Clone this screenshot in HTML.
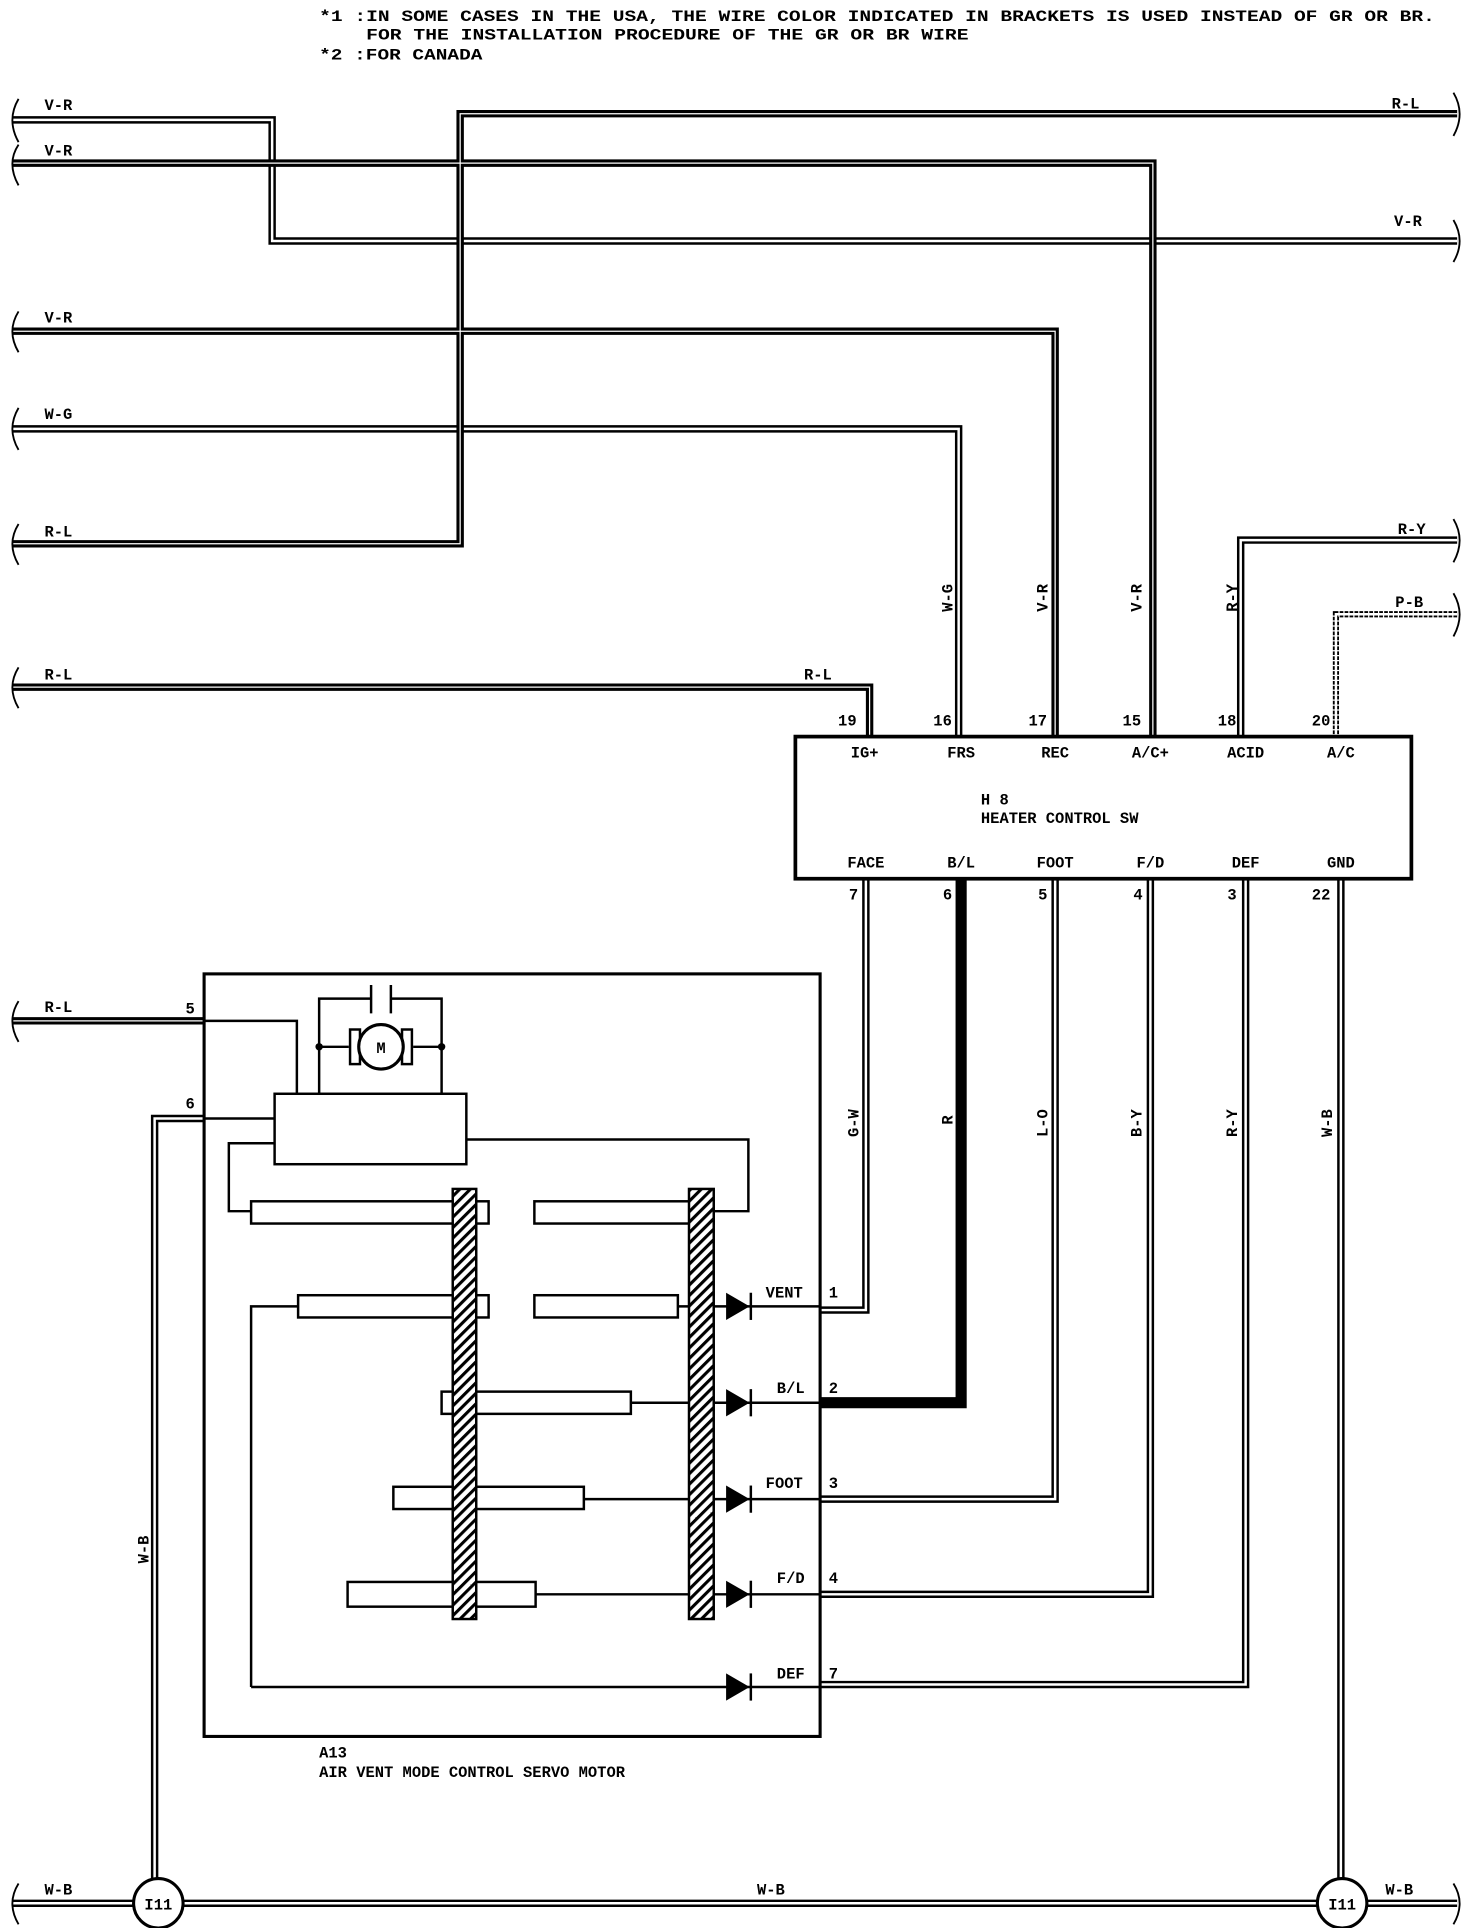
<!DOCTYPE html>
<html><head><meta charset="utf-8"><style>
html,body{margin:0;padding:0;background:#fff;}
svg{display:block;}
text{font-family:"Liberation Mono",monospace;font-weight:bold;font-size:12.5px;fill:#000;}
</style></head><body>
<svg width="1472" height="1928" viewBox="0 0 1190 1560" preserveAspectRatio="none" xmlns="http://www.w3.org/2000/svg">
<defs>
<pattern id="hat" width="6" height="6" patternUnits="userSpaceOnUse" patternTransform="rotate(45)">
<rect width="6" height="6" fill="#fff"/><rect width="2.5" height="6" fill="#000"/></pattern>
<g id="dbl" fill="none">
<path d="M10 97 H220 V195 H1178"/>
<path d="M10 347 H775 V596"/>
<path d="M1178 437 H1003 V596"/>
<path d="M700 711 V1060 H663"/>
<path d="M853 711 V1213 H663"/>
<path d="M930 711 V1290 H663"/>
<path d="M1007 711 V1363 H663"/>
<path d="M1084 711 V1540"/>
<path d="M165 905 H125 V1540"/>
<path d="M10 1540 H1178"/>
</g>
<g id="thk" fill="none">
<path d="M10 132 H932 V596"/>
<path d="M1178 92 H372 V440 H10"/>
<path d="M10 268 H853 V596"/>
<path d="M10 556 H703 V596"/>
<path d="M10 826 H165"/>
</g>
</defs>
<text x="258" y="17" textLength="902" lengthAdjust="spacingAndGlyphs">*1 :IN SOME CASES IN THE USA, THE WIRE COLOR INDICATED IN BRACKETS IS USED INSTEAD OF GR OR BR.</text>
<text x="296" y="32" textLength="487" lengthAdjust="spacingAndGlyphs">FOR THE INSTALLATION PROCEDURE OF THE GR OR BR WIRE</text>
<text x="258" y="48" textLength="132" lengthAdjust="spacingAndGlyphs">*2 :FOR CANADA</text>

<use href="#dbl" stroke="#000" stroke-width="6"/>
<use href="#dbl" stroke="#fff" stroke-width="2"/>
<use href="#thk" stroke="#000" stroke-width="6"/>
<use href="#thk" stroke="#fff" stroke-width="1"/>
<path d="M1178 497 H1080 V596" fill="none" stroke="#000" stroke-width="5" stroke-dasharray="3 1"/>
<path d="M1178 497 H1080 V596" fill="none" stroke="#fff" stroke-width="2"/>
<path d="M777 711 V1135 H663" fill="none" stroke="#000" stroke-width="9"/>

<g fill="none" stroke="#000" stroke-width="1.5">
<path d="M15 80 Q5 97 15 115"/><path d="M15 117 Q5 132 15 150"/><path d="M15 252 Q5 268 15 285"/>
<path d="M15 330 Q5 347 15 364"/><path d="M15 424 Q5 440 15 457"/><path d="M15 540 Q5 556 15 573"/>
<path d="M15 810 Q5 826 15 843"/><path d="M15 1524 Q5 1540 15 1557"/>
<path d="M1175 75 Q1185 92 1175 110"/><path d="M1175 178 Q1185 195 1175 212"/><path d="M1175 420 Q1185 437 1175 455"/>
<path d="M1175 480 Q1185 497 1175 515"/><path d="M1175 1524 Q1185 1540 1175 1557"/>
</g>
<text x="36" y="89">V-R</text><text x="36" y="126">V-R</text><text x="36" y="261">V-R</text>
<text x="36" y="339">W-G</text><text x="36" y="434">R-L</text><text x="36" y="550">R-L</text>
<text x="36" y="819">R-L</text><text x="36" y="1533">W-B</text><text x="612" y="1533">W-B</text><text x="1120" y="1533">W-B</text>
<text x="1125" y="88">R-L</text><text x="1127" y="183">V-R</text><text x="1130" y="432">R-Y</text>
<text x="1128" y="491">P-B</text><text x="650" y="550">R-L</text>
<g>
<text transform="translate(770,495) rotate(-90)">W-G</text>
<text transform="translate(847,495) rotate(-90)">V-R</text>
<text transform="translate(923,495) rotate(-90)">V-R</text>
<text transform="translate(1000,495) rotate(-90)">R-Y</text>
<text transform="translate(694,920) rotate(-90)">G-W</text>
<text transform="translate(770,910) rotate(-90)">R</text>
<text transform="translate(847,920) rotate(-90)">L-O</text>
<text transform="translate(923,920) rotate(-90)">B-Y</text>
<text transform="translate(1000,920) rotate(-90)">R-Y</text>
<text transform="translate(1077,920) rotate(-90)">W-B</text>
<text transform="translate(120,1265) rotate(-90)">W-B</text>
</g>

<rect x="643" y="596" width="498" height="115" fill="#fff" stroke="#000" stroke-width="3"/>
<g text-anchor="middle">
<text x="685" y="587">19</text><text x="762" y="587">16</text><text x="839" y="587">17</text>
<text x="915" y="587">15</text><text x="992" y="587">18</text><text x="1068" y="587">20</text>
<text x="699" y="613">IG+</text><text x="777" y="613">FRS</text><text x="853" y="613">REC</text>
<text x="930" y="613">A/C+</text><text x="1007" y="613">ACID</text><text x="1084" y="613">A/C</text>
<text x="700" y="702">FACE</text><text x="777" y="702">B/L</text><text x="853" y="702">FOOT</text>
<text x="930" y="702">F/D</text><text x="1007" y="702">DEF</text><text x="1084" y="702">GND</text>
<text x="690" y="728">7</text><text x="766" y="728">6</text><text x="843" y="728">5</text>
<text x="920" y="728">4</text><text x="996" y="728">3</text><text x="1068" y="728">22</text>
</g>
<text x="793" y="651">H 8</text><text x="793" y="666">HEATER CONTROL SW</text>

<rect x="165" y="788" width="498" height="617" fill="none" stroke="#000" stroke-width="2.5"/>
<text x="150" y="820">5</text><text x="150" y="897">6</text>
<text x="258" y="1422">A13</text><text x="258" y="1438">AIR VENT MODE CONTROL SERVO MOTOR</text>
<g fill="none" stroke="#000" stroke-width="2">
<path d="M165 826 H240 V885"/>
<path d="M165 905 H222"/>
<path d="M222 925 H185 V980 H203"/>
<path d="M377 922 H605 V980 H577"/>
<path d="M258 885 V808 H300 M316 808 H357 V885"/>
<path d="M300 797 V820 M316 797 V820"/>
<path d="M258 847 H282 M334 847 H357"/>
<path d="M203 1365 V1057 H241"/>
<path d="M548 1057 H663 M510 1135 H663 M472 1213 H663 M433 1290 H663 M203 1365 H663"/>
<rect x="222" y="885" width="155" height="57" fill="#fff"/>
<rect x="203" y="972" width="192" height="18" fill="#fff"/>
<rect x="432" y="972" width="145" height="18" fill="#fff"/>
<rect x="241" y="1048" width="154" height="18" fill="#fff"/>
<rect x="432" y="1048" width="116" height="18" fill="#fff"/>
<rect x="357" y="1126" width="153" height="18" fill="#fff"/>
<rect x="318" y="1203" width="154" height="18" fill="#fff"/>
<rect x="281" y="1280" width="152" height="20" fill="#fff"/>
<rect x="283" y="833" width="8" height="28"/><rect x="325" y="833" width="8" height="28"/>
<circle cx="308" cy="847" r="18" fill="#fff" stroke-width="2.5"/>
</g>
<circle cx="258" cy="847" r="3"/><circle cx="357" cy="847" r="3"/>
<text x="308" y="852" text-anchor="middle" font-size="11">M</text>
<rect x="366" y="962" width="19" height="348" fill="url(#hat)" stroke="#000" stroke-width="2"/>
<rect x="557" y="962" width="20" height="348" fill="url(#hat)" stroke="#000" stroke-width="2"/>
<g>
<path d="M587 1046 L606 1057 L587 1068Z"/><path d="M607 1046 V1068" stroke="#000" stroke-width="2"/>
<path d="M587 1124 L606 1135 L587 1146Z"/><path d="M607 1124 V1146" stroke="#000" stroke-width="2"/>
<path d="M587 1202 L606 1213 L587 1224Z"/><path d="M607 1202 V1224" stroke="#000" stroke-width="2"/>
<path d="M587 1279 L606 1290 L587 1301Z"/><path d="M607 1279 V1301" stroke="#000" stroke-width="2"/>
<path d="M587 1354 L606 1365 L587 1376Z"/><path d="M607 1354 V1376" stroke="#000" stroke-width="2"/>
</g>
<text x="619" y="1050">VENT</text><text x="628" y="1127">B/L</text><text x="619" y="1204">FOOT</text>
<text x="628" y="1281">F/D</text><text x="628" y="1358">DEF</text>
<text x="670" y="1050">1</text><text x="670" y="1127">2</text><text x="670" y="1204">3</text>
<text x="670" y="1281">4</text><text x="670" y="1358">7</text>

<g fill="#fff" stroke="#000" stroke-width="2.5">
<circle cx="128" cy="1540" r="20"/><circle cx="1085" cy="1540" r="20"/>
</g>
<text x="128" y="1545" text-anchor="middle" font-size="11">I11</text>
<text x="1085" y="1545" text-anchor="middle" font-size="11">I11</text>
</svg>
</body></html>
